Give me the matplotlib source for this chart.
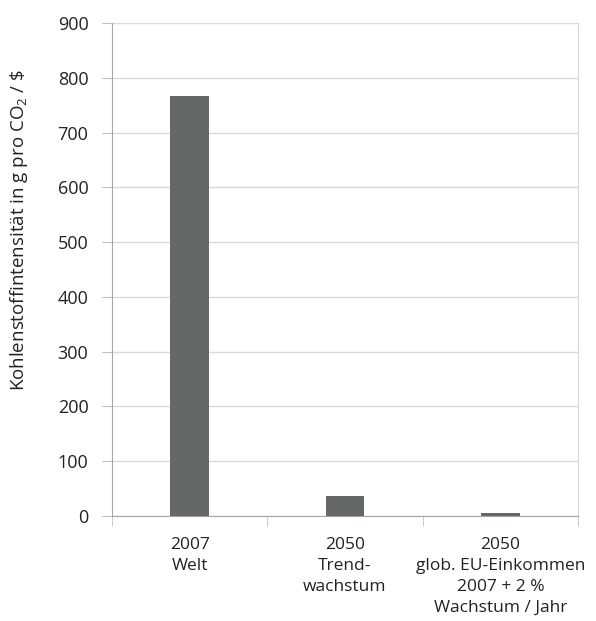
import matplotlib
matplotlib.use("Agg")
import matplotlib.pyplot as plt
import numpy as np

categories = ["2007\nWelt", "2050\nTrend-\nwachstum", "2050\nglob. EU-Einkommen\n2007 + 2 %\nWachstum / Jahr"]
values = [767, 37, 5]
yticks = [0, 100, 200, 300, 400, 500, 600, 700, 800, 900]

plt.rcParams['font.family'] = ['Open Sans', 'DejaVu Sans']
plt.rcParams['mathtext.fontset'] = 'custom'
plt.rcParams['mathtext.rm'] = 'Open Sans'

fig = plt.figure(figsize=(5.96, 6.21), dpi=100)
ax = fig.add_axes([112/596, 1 - 516/621, (578-112)/596, (516-23)/621])

x = np.arange(len(categories))
ax.bar(x, values, width=0.25, color='#646868', zorder=3)
ax.set_xlim(-0.5, len(categories) - 0.5)
ax.set_ylim(0, 900)
ax.set_yticks(yticks)
ax.set_yticklabels([str(t) for t in yticks], fontsize=13, color='#222222')
ax.yaxis.grid(True, color='#d9d9d9', linewidth=1.0, zorder=0)
ax.tick_params(axis='y', length=7, color='#bfbfbf', pad=10)

ax.set_xticks(x)
ax.set_xticklabels(categories, fontsize=12.5, color='#222222', linespacing=1.42)
ax.tick_params(axis='x', which='major', length=0, pad=15)
ax.set_xticks(np.arange(-0.5, len(categories)), minor=True)
ax.tick_params(axis='x', which='minor', length=7, color='#bfbfbf')

for s in ['left', 'bottom']:
    ax.spines[s].set_color('#a6a6a6')
ax.spines['right'].set_color('#d9d9d9')
ax.spines['top'].set_visible(False)

ax.set_ylabel('Kohlenstoffintensität in g pro CO$_2$ / \\$', fontsize=13.5, color='#222222', labelpad=18)
ax.yaxis.set_label_coords(-0.175, 0.58)

fig.savefig('out.png', dpi=100)
